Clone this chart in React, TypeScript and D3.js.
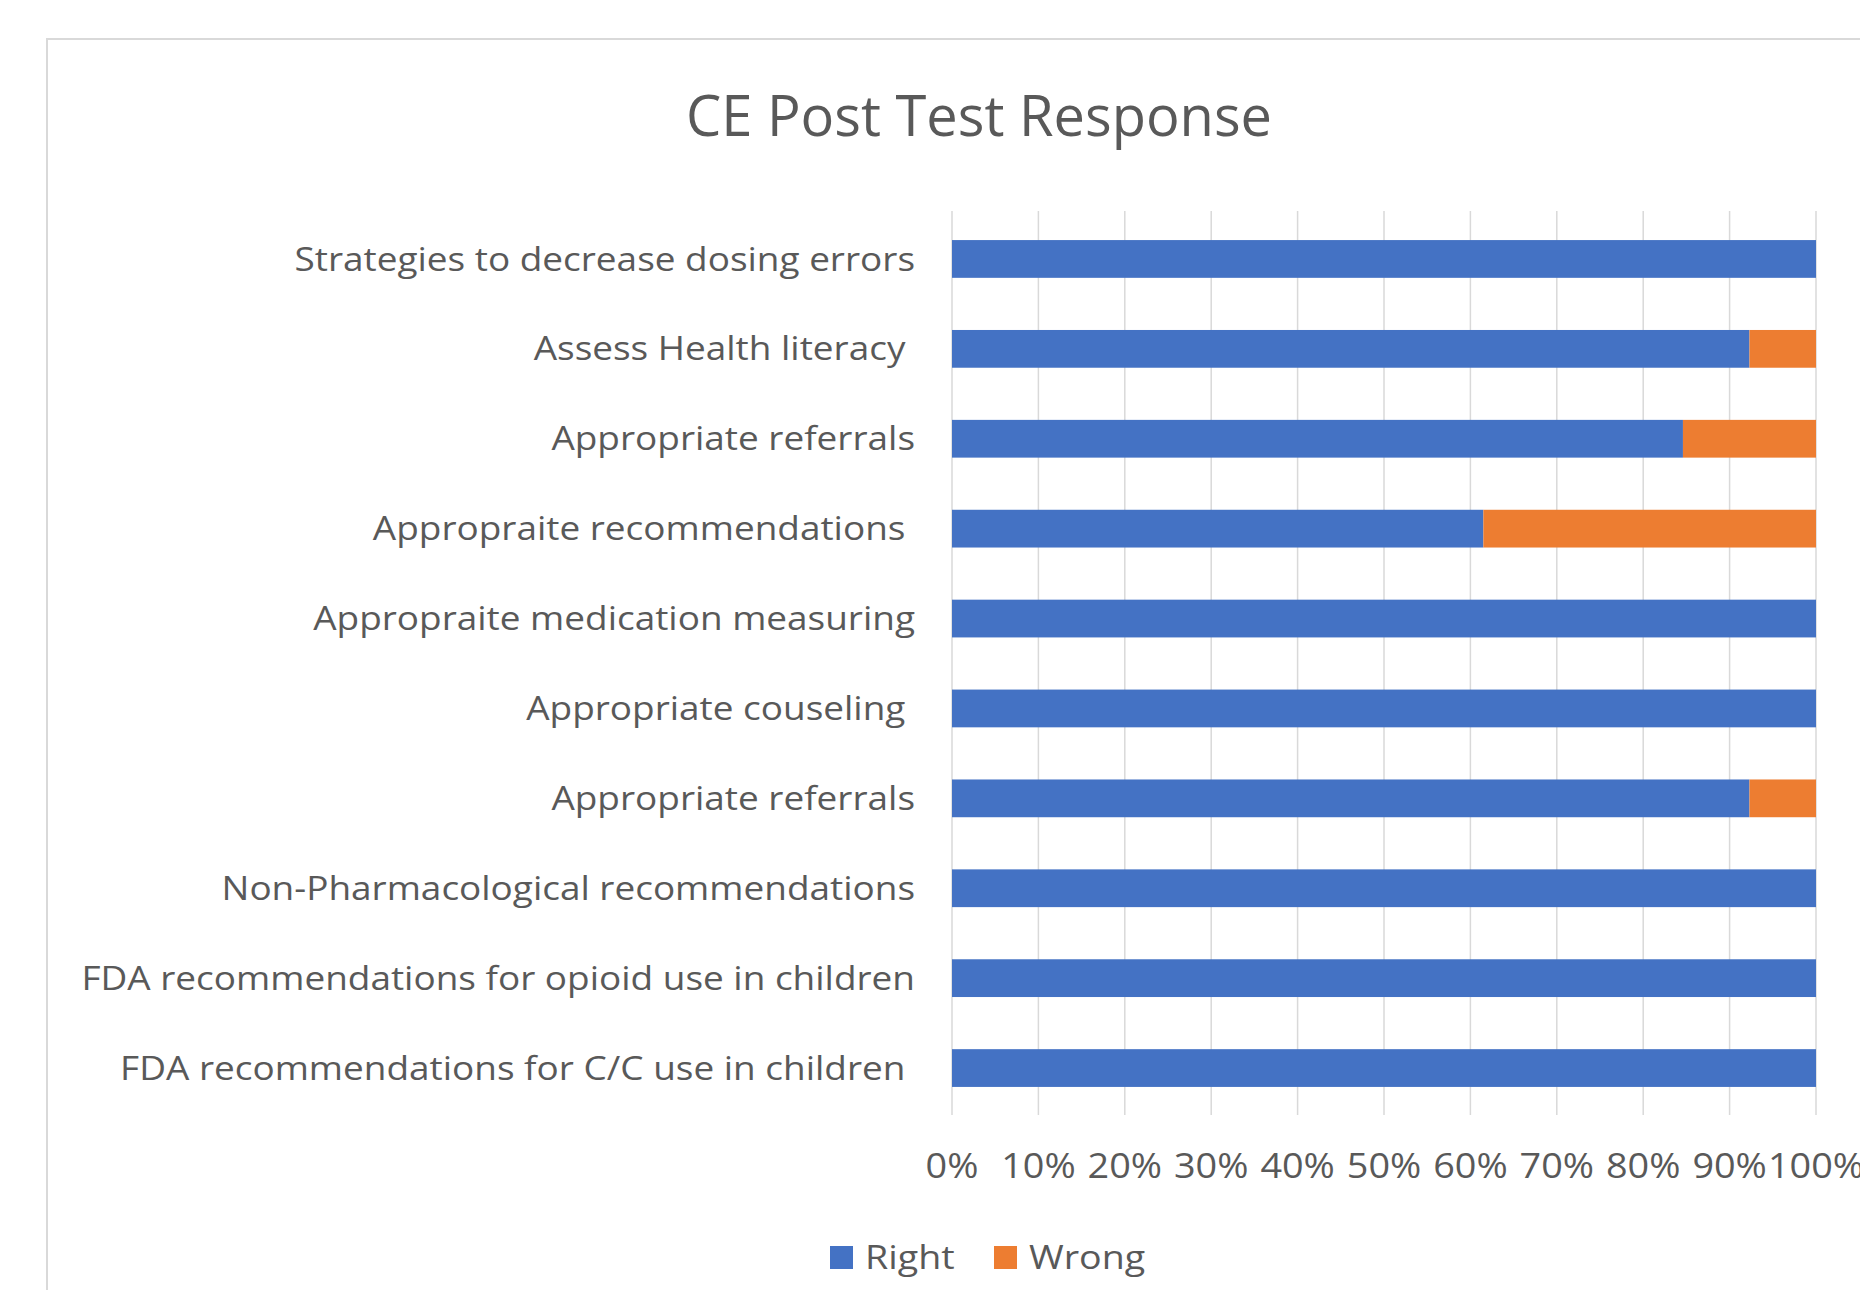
import React from "react";
import * as d3 from "d3";

const TITLE = "CE Post Test Response";
const categories = [
  "Strategies to decrease dosing errors",
  "Assess Health literacy ",
  "Appropriate referrals",
  "Appropraite recommendations ",
  "Appropraite medication measuring",
  "Appropriate couseling ",
  "Appropriate referrals",
  "Non-Pharmacological recommendations",
  "FDA recommendations for opioid use in children",
  "FDA recommendations for C/C use in children ",
];
const rightValues = [100, 92.3, 84.6, 61.5, 100, 100, 92.3, 100, 100, 100];
const wrongValues = [0, 7.7, 15.4, 38.5, 0, 0, 7.7, 0, 0, 0];
const tickValues = [0, 10, 20, 30, 40, 50, 60, 70, 80, 90, 100];
const seriesNames = ["Right", "Wrong"];
const seriesColors = ["#4472C4", "#ED7D31"];

const W = 1860;
const H = 1290;
const plot = { left: 952, right: 1816, top: 211, bottom: 1115 };
const FONT = "'Open Sans', sans-serif";
const TEXT = "#595959";
const GRID = "#D9D9D9";

export default function App() {
  const x = d3.scaleLinear().domain([0, 100]).range([plot.left, plot.right]);
  const y = d3
    .scaleBand<number>()
    .domain(categories.map((_, i) => i))
    .range([plot.top + 3, plot.bottom - 2])
    .paddingInner(0.58)
    .paddingOuter(0.29);

  const rows = categories.map((c, i) => ({ c, i, r: rightValues[i], w: wrongValues[i] }));

  return (
    <svg
      width={W}
      height={H}
      style={{ position: "absolute", left: 0, top: 0, background: "#fff" }}
      fontFamily={FONT}
    >
      <rect x={47} y={39} width={W} height={H} fill="#fff" stroke={GRID} strokeWidth={2} />
      <text x={979} y={136} textAnchor="middle" fontSize={56} fill={TEXT}>
        {TITLE}
      </text>
      {tickValues.map((t) => (
        <line key={t} x1={x(t)} x2={x(t)} y1={plot.top} y2={plot.bottom} stroke={GRID} strokeWidth={1.5} />
      ))}
      {rows.map((d) => (
        <g key={d.i}>
          <rect x={x(0)} y={y(d.i)} width={x(d.r) - x(0)} height={y.bandwidth()} fill={seriesColors[0]} />
          {d.w > 0 && (
            <rect x={x(d.r)} y={y(d.i)} width={x(d.r + d.w) - x(d.r)} height={y.bandwidth()} fill={seriesColors[1]} />
          )}
          <text
            transform={`translate(915,${(y(d.i) as number) + y.bandwidth() / 2}) scale(1.12,1)`}
            dy="0.35em"
            textAnchor="end"
            fontSize={33}
            fill={TEXT}
            style={{ whiteSpace: "pre" }}
          >
            {d.c}
          </text>
        </g>
      ))}
      {tickValues.map((t) => (
        <text
          key={t}
          transform={`translate(${x(t)},1166) scale(1.08,1)`}
          dy="0.35em"
          textAnchor="middle"
          fontSize={35}
          fill={TEXT}
        >
          {t + "%"}
        </text>
      ))}
      {seriesNames.map((s, i) => {
        const lx = [830, 994][i];
        return (
          <g key={s}>
            <rect x={lx} y={1246} width={23} height={23} fill={seriesColors[i]} />
            <text transform={`translate(${lx + 35},1257) scale(1.14,1)`} dy="0.35em" fontSize={33} fill={TEXT}>
              {s}
            </text>
          </g>
        );
      })}
    </svg>
  );
}
